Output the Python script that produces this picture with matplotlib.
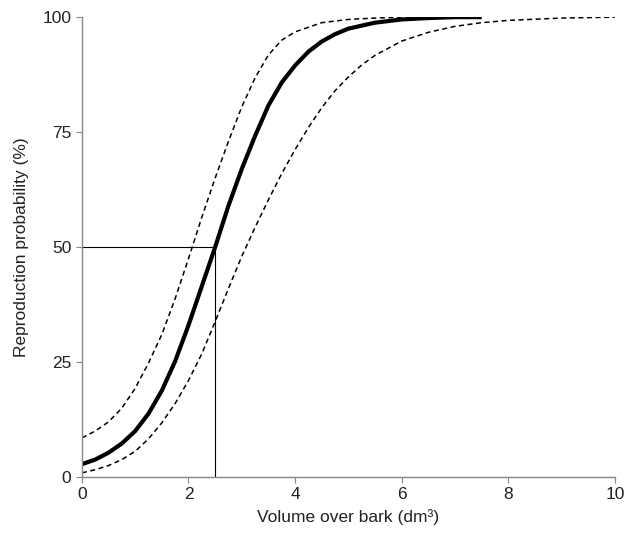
import matplotlib.pyplot as plt

# values
vol = [0, 0.25, 0.5, 0.75, 1, 1.25, 1.5, 1.75, 2, 2.25, 2.5, 2.75, 3, 3.25, 3.5,
       3.75, 4, 4.25, 4.5, 4.75, 5, 5.5, 6, 6.5, 7, 7.5]
prob = [2.8, 3.8, 5.3, 7.3, 10, 13.8, 18.8, 25.2, 33, 41.5, 50, 59, 67, 74.2,
        80.8, 85.8, 89.5, 92.5, 94.7, 96.3, 97.5, 98.8, 99.5, 99.8, 100, 100]

vol_up = [0, 0.25, 0.5, 0.75, 1, 1.25, 1.5, 1.75, 2, 2.25, 2.5, 2.75, 3, 3.25,
          3.5, 3.75, 4, 4.5, 5, 5.5, 6]
prob_up = [8.5, 10, 12, 15, 19.3, 24.8, 31, 38.8, 47.5, 56.5, 65, 73, 80.5, 86.8,
           91.8, 95, 96.8, 98.8, 99.5, 99.8, 100]

vol_low = [0, 0.25, 0.5, 0.75, 1, 1.25, 1.5, 1.75, 2, 2.25, 2.5, 2.75, 3, 3.25,
           3.5, 3.75, 4, 4.25, 4.5, 4.75, 5, 5.25, 5.5, 6, 6.5, 7, 7.5, 8, 9, 10]
prob_low = [0.9, 1.6, 2.5, 3.8, 5.6, 8.3, 11.8, 16, 21, 26.8, 33.8, 41, 48, 54.3,
            60.3, 66, 71.2, 76, 80.3, 84, 87, 89.6, 91.7, 94.8, 96.7, 98, 98.8,
            99.3, 99.8, 100]

v50 = 2.5  # volume at 50 % probability

xticks = [0, 2, 4, 6, 8, 10]
yticks = [0, 25, 50, 75, 100]

plt.rcParams['font.family'] = ['Liberation Sans', 'DejaVu Sans']

fig = plt.figure(figsize=(6.3, 5.36), dpi=100)
ax = fig.add_axes([0.130, 0.110, 0.846, 0.858])

ax.plot([0, v50], [50, 50], color='black', lw=0.8)
ax.plot([v50, v50], [0, 50], color='black', lw=0.8)

ax.plot(vol_up, prob_up, color='black', lw=1.1, ls=(0, (3.3, 2.3)))
ax.plot(vol_low, prob_low, color='black', lw=1.1, ls=(0, (3.3, 2.3)))
ax.plot(vol, prob, color='black', lw=3, solid_capstyle='butt', solid_joinstyle='round')

ax.set_xlim(0, 10)
ax.set_ylim(0, 100)
ax.set_xticks(xticks)
ax.set_yticks(yticks)

for s in ['top', 'right']:
    ax.spines[s].set_visible(False)
for s in ['left', 'bottom']:
    ax.spines[s].set_color('#888888')
    ax.spines[s].set_linewidth(1)
ax.tick_params(direction='out', length=4, color='#888888', labelsize=12.5,
               labelcolor='#222222')

ax.set_xlabel('Volume over bark (dm³)', fontsize=12.5, color='#222222', labelpad=5)
ax.set_ylabel('Reproduction probability (%)', fontsize=12.5, color='#222222',
              labelpad=10)

fig.savefig('out.png', dpi=100)
